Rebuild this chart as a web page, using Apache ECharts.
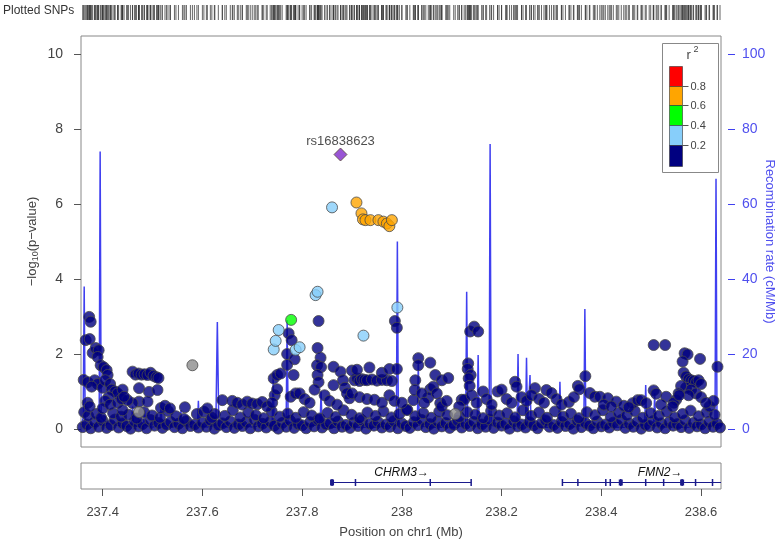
<!DOCTYPE html>
<html><head><meta charset="utf-8">
<script src="https://cdn.jsdelivr.net/npm/echarts@6/dist/echarts.min.js"></script>
<style>html,body{margin:0;padding:0;background:#fff}#c{width:780px;height:544px}</style>
</head><body><div id="c"></div>
<script>
// ---------- axis settings / ticks ----------
const xMin = 237.3566, xMax = 238.64;
const xTicks = [237.4, 237.6, 237.8, 238.0, 238.2, 238.4, 238.6];
const pTicks = [0, 2, 4, 6, 8, 10];
const recTicks = [0, 20, 40, 60, 80, 100];
const ldLabels = ['0.8', '0.6', '0.4', '0.2'];
const ldColors = ['#FF0000', '#FFA500', '#00FF00', '#87CEFA', '#000080'];

// ---------- SNPs: [position Mb, -log10 p] ----------
const leadSnp = [[237.877, 7.32]];
const leadName = 'rs16838623';
const snpsOrange = [[237.909,6.04],[237.919,5.75],[237.922,5.59],[237.927,5.57],[237.937,5.57],[237.953,5.57],[237.963,5.53],[237.970,5.48],[237.975,5.41],[237.980,5.57]];
const snpsGreen = [[237.778,2.91]];
const snpsLightBlue = [[237.743,2.12],[237.747,2.35],[237.753,2.64],[237.787,2.11],[237.795,2.18],[237.827,3.57],[237.831,3.66],[237.860,5.91],[237.923,2.49],[237.991,3.24]];
const snpsGray = [[237.580,1.70],[237.473,0.45],[238.107,0.40]];
const snpsNavyLow = [[237.360,.05],[237.368,.12],[237.376,.02],[237.384,.18],[237.392,.06],[237.400,.22],[237.408,.03],[237.416,.10],[237.424,.25],[237.432,.04],[237.440,.15],[237.448,.08],[237.456,.01],[237.464,.20],[237.472,.07],[237.480,.13],[237.488,.02],[237.496,.24],[237.504,.09],[237.512,.16],[237.520,.03],[237.528,.11],[237.536,.19],[237.544,.05],[237.552,.14],[237.560,.02],[237.568,.21],[237.576,.08],[237.584,.12],[237.592,.04],[237.600,.17],[237.608,.06],[237.616,.23],[237.624,.01],[237.632,.10],[237.640,.15],[237.648,.05],[237.656,.20],[237.664,.03],[237.672,.12],[237.680,.08],[237.688,.18],[237.696,.02],[237.704,.25],[237.712,.07],[237.720,.14],[237.728,.04],[237.736,.19],[237.744,.09],[237.752,.01],[237.760,.16],[237.768,.06],[237.776,.22],[237.784,.03],[237.792,.13],[237.800,.10],[237.808,.02],[237.816,.18],[237.824,.07],[237.832,.24],[237.840,.04],[237.848,.12],[237.856,.15],[237.864,.02],[237.872,.20],[237.880,.06],[237.888,.11],[237.896,.03],[237.904,.17],[237.912,.08],[237.920,.23],[237.928,.01],[237.936,.14],[237.944,.09],[237.952,.19],[237.960,.04],[237.968,.12],[237.976,.06],[237.984,.21],[237.992,.02],[238.000,.15],[238.008,.08],[238.016,.03],[238.024,.18],[238.032,.10],[238.040,.24],[238.048,.05],[238.056,.13],[238.064,.01],[238.072,.20],[238.080,.07],[238.088,.16],[238.096,.03],[238.104,.11],[238.112,.22],[238.120,.04],[238.128,.14],[238.136,.08],[238.144,.19],[238.152,.02],[238.160,.12],[238.168,.06],[238.176,.25],[238.184,.03],[238.192,.17],[238.200,.09],[238.208,.14],[238.216,.01],[238.224,.21],[238.232,.07],[238.240,.12],[238.248,.04],[238.256,.18],[238.264,.10],[238.272,.02],[238.280,.15],[238.288,.23],[238.296,.06],[238.304,.11],[238.312,.03],[238.320,.19],[238.328,.08],[238.336,.13],[238.344,.01],[238.352,.22],[238.360,.05],[238.368,.16],[238.376,.09],[238.384,.02],[238.392,.20],[238.400,.07],[238.408,.12],[238.416,.04],[238.424,.17],[238.432,.10],[238.440,.24],[238.448,.03],[238.456,.14],[238.464,.06],[238.472,.19],[238.480,.01],[238.488,.11],[238.496,.08],[238.504,.21],[238.512,.04],[238.520,.15],[238.528,.02],[238.536,.18],[238.544,.09],[238.552,.13],[238.560,.05],[238.568,.23],[238.576,.03],[238.584,.16],[238.592,.07],[238.600,.12],[238.608,.02],[238.616,.19],[238.624,.06],[238.632,.14],[238.638,.04]];
const snpsNavyMid = [[237.363,.45],[237.371,.35],[237.387,.40],[237.397,.30],[237.421,.42],[237.437,.33],[237.452,.38],[237.468,.28],[237.483,.45],[237.499,.36],[237.515,.30],[237.531,.48],[237.547,.34],[237.563,.27],[237.589,.40],[237.603,.46],[237.619,.30],[237.625,.40],[237.645,.35],[237.661,.50],[237.676,.31],[237.692,.44],[237.707,.37],[237.723,.29],[237.739,.47],[237.755,.33],[237.771,.41],[237.787,.30],[237.803,.45],[237.819,.36],[237.835,.28],[237.851,.43],[237.867,.32],[237.883,.50],[237.899,.38],[237.915,.29],[237.931,.44],[237.947,.35],[237.963,.47],[237.979,.31],[237.995,.40],[238.011,.51],[238.027,.34],[238.043,.42],[238.059,.30],[238.075,.46],[238.091,.37],[238.115,.32],[238.131,.45],[238.147,.38],[238.163,.29],[238.179,.48],[238.195,.36],[238.211,.42],[238.227,.31],[238.243,.50],[238.259,.35],[238.275,.44],[238.291,.30],[238.307,.47],[238.323,.33],[238.339,.41],[238.355,.29],[238.371,.45],[238.387,.37],[238.403,.50],[238.419,.32],[238.435,.43],[238.451,.36],[238.467,.48],[238.483,.30],[238.499,.42],[238.515,.35],[238.531,.46],[238.547,.31],[238.563,.40],[238.579,.49],[238.595,.34],[238.611,.44],[238.627,.38]];
const snpsNavyHigh = [
 [237.373,2.99],[237.376,2.86],[237.366,2.37],[237.374,2.40],[237.362,1.31],[237.380,2.03],[237.386,2.16],[237.392,2.10],[237.390,1.92],[237.396,1.70],[237.402,1.65],[237.408,1.57],[237.410,1.44],[237.370,1.25],[237.384,1.30],[237.390,1.20],[237.378,1.13],[237.400,1.10],[237.405,1.30],[237.415,1.20],[237.418,1.05],[237.425,1.00],[237.430,0.95],[237.440,1.05],[237.412,0.85],[237.405,0.75],[237.370,0.70],[237.374,0.60],[237.400,0.55],[237.415,0.65],[237.430,0.70],[237.438,0.80],
 [237.460,1.53],[237.466,1.45],[237.472,1.48],[237.478,1.45],[237.484,1.46],[237.490,1.44],[237.496,1.50],[237.502,1.42],[237.508,1.38],[237.512,1.36],[237.473,1.09],[237.493,0.99],[237.510,1.04],[237.473,0.73],[237.490,0.73],[237.460,0.69],[237.450,0.77],[237.443,0.86],[237.517,0.56],[237.440,0.50],[237.525,0.62],[237.535,0.55],
 [237.640,0.77],[237.565,0.58],[237.610,0.55],
 [237.660,0.75],[237.670,0.70],[237.680,0.65],[237.690,0.73],[237.700,0.68],[237.710,0.66],[237.720,0.72],[237.730,0.60],[237.743,1.35],[237.750,1.44],[237.757,1.48],[237.745,0.90],[237.750,1.06],[237.740,0.70],
 [237.773,2.55],[237.779,2.37],[237.770,2.00],[237.785,1.86],[237.770,1.71],[237.783,1.44],[237.777,0.86],[237.787,0.95],[237.795,0.95],[237.805,0.80],[237.815,0.70],[237.833,2.88],[237.831,2.16],[237.837,1.90],[237.830,1.70],[237.838,1.65],[237.831,1.44],[237.833,1.25],[237.863,1.66],[237.877,1.53],[237.863,1.17],[237.882,1.30],[237.886,1.10],[237.890,0.95],[237.895,0.82],[237.845,0.90],[237.855,0.75],[237.825,1.05],[237.870,0.65],
 [237.905,1.30],[237.910,1.35],[237.915,1.28],[237.920,1.33],[237.925,1.31],[237.930,1.30],[237.940,1.32],[237.950,1.29],[237.960,1.31],[237.970,1.30],[237.980,1.28],[237.900,1.56],[237.910,1.58],[237.935,1.64],[237.960,1.50],[237.975,1.60],[237.990,1.60],[237.986,2.88],[237.990,2.70],[237.900,0.95],[237.915,0.85],[237.930,0.80],[237.945,0.78],[237.960,0.70],[237.975,0.90],[237.985,0.75],
 [238.033,1.89],[238.033,1.70],[238.057,1.77],[238.027,1.30],[238.067,1.44],[238.080,1.30],[238.093,1.36],[238.010,0.51],[238.023,0.77],[238.026,1.04],[238.057,1.06],[238.063,1.13],[238.053,0.84],[238.070,0.95],[238.077,0.69],[238.080,0.60],[238.040,0.95],[238.045,0.70],[238.000,0.70],[238.090,0.75],
 [238.137,2.60],[238.145,2.73],[238.153,2.60],[238.133,1.75],[238.132,1.60],[238.138,1.44],[238.134,1.35],[238.136,1.15],[238.163,1.00],[238.120,0.78],[238.125,0.78],[238.140,0.90],[238.150,0.70],[238.170,0.80],[238.180,0.65],[238.115,0.60],
 [238.192,1.00],[238.200,1.05],[238.227,1.26],[238.230,1.13],[238.267,1.09],[238.290,1.04],[238.300,0.96],[238.310,0.80],[238.353,1.15],[238.356,1.06],[238.368,1.41],[238.210,0.80],[238.220,0.70],[238.240,0.85],[238.250,0.75],[238.260,0.90],[238.275,0.80],[238.285,0.70],[238.320,0.65],[238.335,0.72],[238.345,0.85],
 [238.377,0.96],[238.387,0.86],[238.397,0.86],[238.413,0.82],[238.430,0.73],[238.463,0.69],[238.473,0.77],[238.480,0.77],[238.490,0.69],[238.405,0.65],[238.445,0.62],[238.455,0.58],[238.420,0.60],
 [238.505,2.24],[238.528,2.24],[238.567,2.02],[238.573,1.99],[238.563,1.80],[238.598,1.87],[238.633,1.66],[238.505,1.03],[238.510,0.94],[238.530,0.86],[238.565,1.50],[238.570,1.40],[238.575,1.33],[238.580,1.30],[238.585,1.28],[238.590,1.25],[238.595,1.30],[238.600,1.20],[238.570,1.10],[238.580,1.05],[238.590,0.95],[238.600,0.85],[238.575,0.90],[238.560,1.15],[238.555,0.95],[238.550,0.78],[238.545,0.70],[238.543,0.60],[238.556,0.90],[238.617,0.60],[238.625,0.75],[238.610,0.70],[238.520,0.65]
];

// ---------- recombination rate: [position Mb, cM/Mb] ----------
const recombination = [[237.357,1],[237.361,3],[237.363,38],[237.365,2],[237.375,1],[237.385,0.5],[237.393,2],[237.395,74],[237.397,3],[237.41,1.5],[237.43,1],[237.45,0.5],[237.458,1],[237.460,6],[237.462,1],[237.475,0.5],[237.482,1],[237.484,5],[237.486,1],[237.50,0.5],[237.515,1],[237.517,6],[237.519,1],[237.54,0.5],[237.555,1],[237.557,5],[237.559,1],[237.575,0.5],[237.59,1],[237.592,7.5],[237.594,1],[237.61,0.5],[237.627,1],[237.630,28.5],[237.633,1],[237.65,0.5],[237.68,1],[237.70,0.5],[237.72,1],[237.740,1],[237.742,14],[237.744,1],[237.76,1],[237.768,2],[237.770,29],[237.772,2],[237.79,1],[237.80,1],[237.836,1],[237.838,10],[237.84,1],[237.86,0.5],[237.90,0.5],[237.95,0.5],[237.985,1],[237.989,2],[237.991,50],[237.993,2],[238.0,1],[238.02,1],[238.031,1],[238.033,18],[238.035,1],[238.05,0.5],[238.08,0.5],[238.11,0.5],[238.128,1],[238.130,36.6],[238.132,1],[238.14,1],[238.151,1],[238.153,19.7],[238.155,1],[238.165,0.5],[238.175,1],[238.177,76],[238.179,1],[238.20,0.5],[238.22,0.5],[238.231,1],[238.233,20],[238.235,1],[238.248,1],[238.250,19],[238.252,1],[238.255,1],[238.257,14.4],[238.259,1],[238.28,0.5],[238.30,0.5],[238.315,1],[238.317,12.6],[238.319,1],[238.34,0.5],[238.365,1],[238.367,32],[238.369,1],[238.38,0.5],[238.42,0.5],[238.45,0.5],[238.475,1],[238.487,1],[238.489,11.7],[238.491,1],[238.505,1],[238.507,9.5],[238.509,1],[238.53,0.5],[238.56,0.5],[238.59,0.5],[238.615,1],[238.628,1],[238.630,66.7],[238.632,1],[238.64,1]];

// ---------- genes ----------
const geneNames = ['CHRM3', 'FMN2'];
const geneStart = [237.860, 238.322];
const geneEnd = [238.139, 238.714];
const geneExons = [[237.860,237.907,238.057,238.139],[238.322,238.353,238.409,238.418,238.439,238.489,238.525,238.562,238.589,238.623]];
const geneBigExons = [[237.860],[238.439,238.562]];

// ---------- build ----------
const FONT = '"Liberation Sans", Arial, sans-serif';
const BLUE = '#4040f0';
const allSnps = [].concat(snpsNavyLow, snpsNavyMid, snpsNavyHigh, snpsGray, snpsLightBlue, snpsGreen, snpsOrange, leadSnp);
const rug = allSnps.map(d => [d[0], 0.5]);
const fmt = v => String(+(+v).toFixed(1));
const ptStyle = c => ({color: c, borderColor: '#4a4a4a', borderWidth: 1});

const chart = echarts.init(document.getElementById('c'), null, {renderer: 'canvas'});
chart.setOption({
  animation: false,
  textStyle: {fontFamily: FONT},
  grid: [
    {left: 81, right: 59, top: 36, height: 411, show: true, borderColor: '#888', borderWidth: 1, backgroundColor: 'transparent', containLabel: false, outerBoundsMode: 'none'},
    {left: 81, right: 59, top: 463, height: 26, show: true, borderColor: '#888', borderWidth: 1, backgroundColor: 'transparent', containLabel: false, outerBoundsMode: 'none'},
    {left: 81, right: 55, top: 5, height: 15, show: false, containLabel: false, outerBoundsMode: 'none'}
  ],
  xAxis: [
    {gridIndex: 0, type: 'value', min: xMin, max: xMax, show: false},
    {gridIndex: 1, type: 'value', min: xMin, max: xMax,
     axisLine: {show: false}, splitLine: {show: false},
     axisTick: {show: true, customValues: xTicks, length: 7, lineStyle: {color: '#555'}},
     axisLabel: {customValues: xTicks, formatter: fmt, margin: 17, fontSize: 13, color: '#444', fontFamily: FONT},
     name: 'Position on chr1 (Mb)', nameLocation: 'middle', nameGap: 37, nameMoveOverlap: false,
     nameTextStyle: {fontSize: 13, color: '#444', fontFamily: FONT}},
    {gridIndex: 2, type: 'value', min: xMin, max: 238.648, show: false}
  ],
  yAxis: [
    {gridIndex: 0, type: 'value', min: -0.48, max: 10.48,
     axisLine: {show: false}, splitLine: {show: false},
     axisTick: {show: true, customValues: pTicks, length: 7, lineStyle: {color: '#555'}},
     axisLabel: {customValues: pTicks, margin: 18, fontSize: 14, color: '#444', fontFamily: FONT},
     name: '\u2212log{sub|10}(p\u2212value)', nameLocation: 'middle', nameGap: 41, nameRotate: 90, nameMoveOverlap: false,
     nameTextStyle: {fontSize: 13, color: '#444', fontFamily: FONT,
       rich: {sub: {fontSize: 9, color: '#444', fontFamily: FONT, padding: [6, 0, 0, 0]}}}},
    {gridIndex: 0, type: 'value', position: 'right', offset: 7, min: -4.8, max: 104.8,
     axisLine: {show: false}, splitLine: {show: false},
     axisTick: {show: true, customValues: recTicks, length: 7, lineStyle: {color: BLUE}},
     axisLabel: {customValues: recTicks, margin: 14, fontSize: 14, color: '#5050ee', fontFamily: FONT},
     name: 'Recombination rate (cM/Mb)', nameLocation: 'middle', nameGap: 35, nameRotate: -90, nameMoveOverlap: false,
     nameTextStyle: {fontSize: 13, color: '#5050ee', fontFamily: FONT}},
    {gridIndex: 1, type: 'value', min: 0, max: 1, show: false},
    {gridIndex: 2, type: 'value', min: 0, max: 1, show: false}
  ],
  series: [
    {type: 'line', name: 'recomb', xAxisIndex: 0, yAxisIndex: 1, data: recombination, showSymbol: false,
     lineStyle: {color: BLUE, width: 1.5}, z: 1, clip: true, silent: true},
    {type: 'scatter', xAxisIndex: 0, yAxisIndex: 0, data: [].concat(snpsNavyLow, snpsNavyMid, snpsNavyHigh),
     symbolSize: 11, itemStyle: ptStyle('#000080'), z: 2},
    {type: 'scatter', xAxisIndex: 0, yAxisIndex: 0, data: snpsGray, symbolSize: 11, itemStyle: ptStyle('#8c8c8c'), z: 3},
    {type: 'scatter', xAxisIndex: 0, yAxisIndex: 0, data: snpsLightBlue, symbolSize: 11, itemStyle: ptStyle(ldColors[3]), z: 4},
    {type: 'scatter', xAxisIndex: 0, yAxisIndex: 0, data: snpsGreen, symbolSize: 11, itemStyle: ptStyle(ldColors[2]), z: 5},
    {type: 'scatter', xAxisIndex: 0, yAxisIndex: 0, data: snpsOrange, symbolSize: 11, itemStyle: ptStyle(ldColors[1]), z: 6},
    {type: 'scatter', xAxisIndex: 0, yAxisIndex: 0, data: leadSnp, symbol: 'diamond', symbolSize: 13,
     itemStyle: {color: '#7f2bcb', borderColor: '#5a4a3a', borderWidth: 1}, z: 7,
     label: {show: true, position: 'top', distance: 0, formatter: leadName, fontSize: 13, color: '#222', fontFamily: FONT}},
    {type: 'scatter', xAxisIndex: 2, yAxisIndex: 3, data: rug, symbol: 'rect', symbolSize: [1, 15],
     itemStyle: {color: '#333', opacity: 0.75}, silent: true},
    {type: 'custom', xAxisIndex: 1, yAxisIndex: 2, data: geneNames.map((n, i) => [i]), clip: true, silent: true,
     renderItem: function (params, api) {
       const i = api.value(0);
       const cs = params.coordSys;
       const clampX = x => Math.max(cs.x, Math.min(cs.x + cs.width, x));
       const s = api.coord([geneStart[i], 0.27]);
       const e = api.coord([geneEnd[i], 0.27]);
       const lab = api.coord([(geneStart[i] + geneEnd[i]) / 2, 0.62]);
       const y = Math.round(s[1]) + 0.5;
       const children = [{type: 'line', shape: {x1: clampX(s[0]), y1: y, x2: clampX(e[0]), y2: y},
         style: {stroke: '#1a1a8c', lineWidth: 1}}];
       geneExons[i].forEach(p => {
         const c = api.coord([p, 0.27]);
         if (c[0] <= cs.x + cs.width) children.push({type: 'rect', shape: {x: c[0] - 0.75, y: y - 3.5, width: 1.5, height: 7}, style: {fill: '#1a1a8c'}});
       });
       geneBigExons[i].forEach(p => {
         const c = api.coord([p, 0.27]);
         children.push({type: 'rect', shape: {x: c[0] - 2, y: y - 3, width: 4, height: 6}, style: {fill: '#1a1a8c'}});
       });
       children.push({type: 'text', x: lab[0], y: lab[1], style: {text: geneNames[i] + '\u2192', fill: '#111',
         font: 'italic 12px ' + FONT, textAlign: 'center', textVerticalAlign: 'middle'}});
       return {type: 'group', children: children};
     }}
  ],
  graphic: [
    {type: 'text', left: 3, top: 5, style: {text: 'Plotted SNPs', font: '12px ' + FONT, fill: '#333'}},
    {type: 'group', left: 662, top: 43, children: [
      {type: 'rect', shape: {x: 0, y: 0, width: 56, height: 129}, style: {fill: '#fff', stroke: '#888', lineWidth: 1}},
      {type: 'text', x: 24, y: 5, style: {text: 'r', font: '13px ' + FONT, fill: '#444'}},
      {type: 'text', x: 31, y: 2, style: {text: '2', font: '9px ' + FONT, fill: '#444'}},
      {type: 'rect', shape: {x: 7, y: 23, width: 13, height: 20}, style: {fill: ldColors[0], stroke: '#333', lineWidth: 0.6}},
      {type: 'rect', shape: {x: 7, y: 43, width: 13, height: 19}, style: {fill: ldColors[1], stroke: '#333', lineWidth: 0.6}},
      {type: 'rect', shape: {x: 7, y: 62, width: 13, height: 20}, style: {fill: ldColors[2], stroke: '#333', lineWidth: 0.6}},
      {type: 'rect', shape: {x: 7, y: 82, width: 13, height: 20}, style: {fill: ldColors[3], stroke: '#333', lineWidth: 0.6}},
      {type: 'rect', shape: {x: 7, y: 102, width: 13, height: 21}, style: {fill: ldColors[4], stroke: '#333', lineWidth: 0.6}},
      {type: 'line', shape: {x1: 20, y1: 43, x2: 26, y2: 43}, style: {stroke: '#555'}},
      {type: 'line', shape: {x1: 20, y1: 62, x2: 26, y2: 62}, style: {stroke: '#555'}},
      {type: 'line', shape: {x1: 20, y1: 82, x2: 26, y2: 82}, style: {stroke: '#555'}},
      {type: 'line', shape: {x1: 20, y1: 102, x2: 26, y2: 102}, style: {stroke: '#555'}},
      {type: 'text', x: 28, y: 43, style: {text: ldLabels[0], font: '11px ' + FONT, fill: '#444', textVerticalAlign: 'middle'}},
      {type: 'text', x: 28, y: 62, style: {text: ldLabels[1], font: '11px ' + FONT, fill: '#444', textVerticalAlign: 'middle'}},
      {type: 'text', x: 28, y: 82, style: {text: ldLabels[2], font: '11px ' + FONT, fill: '#444', textVerticalAlign: 'middle'}},
      {type: 'text', x: 28, y: 102, style: {text: ldLabels[3], font: '11px ' + FONT, fill: '#444', textVerticalAlign: 'middle'}}
    ]}
  ]
});
</script>
</body></html>
